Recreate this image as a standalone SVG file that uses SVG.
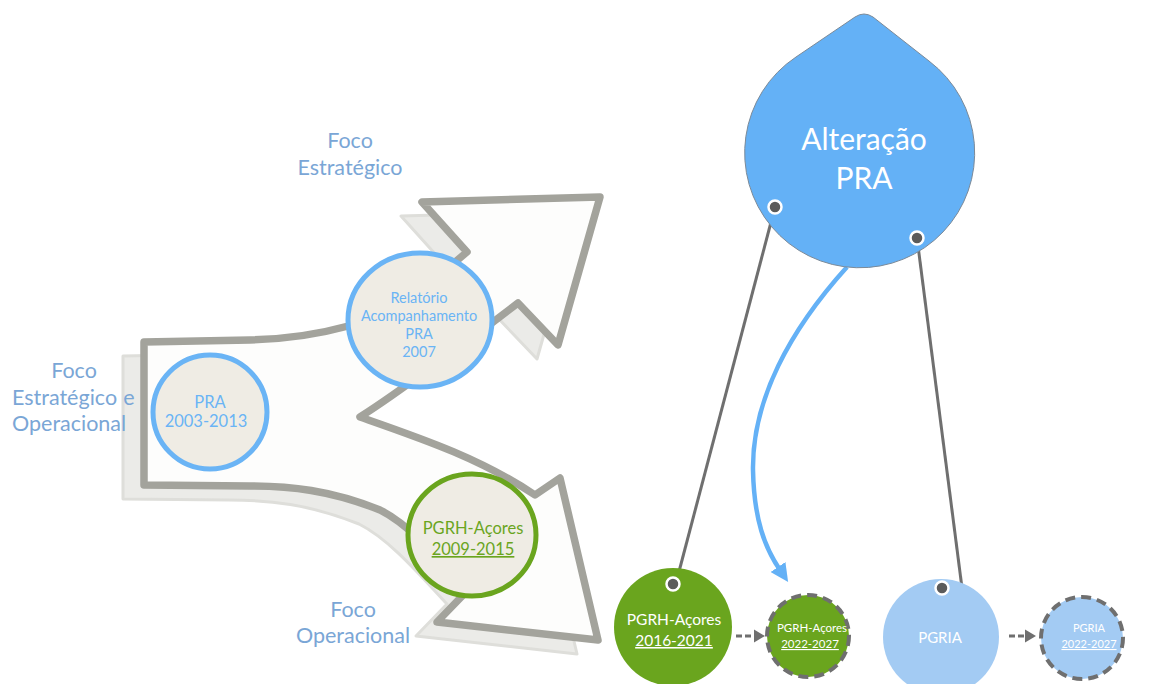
<svg xmlns="http://www.w3.org/2000/svg" width="1150" height="684" viewBox="0 0 1150 684">
<style>
text{font-family:"Lato","Noto Sans","Liberation Sans",sans-serif;text-anchor:middle}
.foco{fill:#7aa6d6;font-size:21.5px}
.bl{fill:#6ab4f5}
.gr{fill:#6aa51e}
.wt{fill:#ffffff}
.u{text-decoration:underline}
.conn{stroke:#6f6f6f;stroke-width:3;fill:none}
.dash{stroke:#6f6f6f;stroke-width:3;fill:none;stroke-dasharray:6 3}
.head{fill:#6f6f6f}
.dot{fill:#5b5b5b;stroke:#ffffff;stroke-width:2.5}
.ring-b{fill:#efece4;stroke:#6ab4f5;stroke-width:5}
.ring-g{fill:#efece4;stroke:#6aa51e;stroke-width:5}
.dashed{stroke:#6f6f6f;stroke-width:4;stroke-dasharray:10 6}
</style>
<defs>
<marker id="bh" viewBox="0 0 10 10" refX="2" refY="5" markerWidth="4" markerHeight="4" orient="auto" markerUnits="strokeWidth">
<path d="M0,0 L10,5 L0,10 Z" fill="#64b1f6"/>
</marker>
<path id="bigArrow" d="M144,342 L250,340 C320,338 380,322 420,292 L467,252 L422,202 L600,197 L558,345 L518,303 L480,332 C440,360 400,392 360,417 C420,438 480,458 535,495 L560,478 L598,640 L437,622 L468,590 C440,560 410,525 380,510 C330,490 290,486 250,486 L144,485 Z"/>
</defs>

<g id="arrow-shape">
<use href="#bigArrow" transform="translate(-21,14)" fill="#ebebe8" stroke="#dededa" stroke-width="3" stroke-linejoin="round"/>
<use href="#bigArrow" fill="#fdfdfc" stroke="#a3a39c" stroke-width="7.5" stroke-linejoin="round"/>
</g>

<g id="labels">
<text class="foco" x="350" y="148">Foco</text>
<text class="foco" x="350" y="175">Estratégico</text>
<text class="foco" x="74" y="378">Foco</text>
<text class="foco" x="12" y="405" style="text-anchor:start">Estratégico</text>
<text class="foco" x="129" y="405">e</text>
<text class="foco" x="12" y="431" style="text-anchor:start">Operacional</text>
<text class="foco" x="353" y="617">Foco</text>
<text class="foco" x="353" y="643">Operacional</text>
</g>

<g id="node-pra">
<circle class="ring-b" cx="210" cy="412" r="57"/>
<text class="bl" x="210" y="408" font-size="16.5">PRA</text>
<text class="bl" x="206" y="427" font-size="16.5">2003-2013</text>
</g>

<g id="node-relatorio">
<ellipse class="ring-b" cx="420" cy="320" rx="72" ry="67"/>
<text class="bl" x="419" y="303" font-size="14.5">Relatório</text>
<text class="bl" x="419" y="321" font-size="14.5">Acompanhamento</text>
<text class="bl" x="419" y="339" font-size="14.5">PRA</text>
<text class="bl" x="419" y="357" font-size="14.5">2007</text>
</g>

<g id="node-pgrh-2009">
<ellipse class="ring-g" cx="472" cy="535" rx="64" ry="61"/>
<text class="gr" x="473" y="534" font-size="16.5">PGRH-Açores</text>
<text class="gr u" x="473" y="555" font-size="16.5">2009-2015</text>
</g>

<g id="connectors">
<line class="conn" x1="775" y1="207" x2="676" y2="583"/>
<line class="conn" x1="917" y1="238" x2="962" y2="588"/>
<path d="M847,267 C790,330 752,400 753,470 C754,520 765,548 780,570" fill="none" stroke="#64b1f6" stroke-width="4.5" marker-end="url(#bh)"/>
<line class="dash" x1="736" y1="636" x2="756" y2="636"/>
<polygon class="head" points="754,629.5 765,636 754,642.5"/>
<line class="dash" x1="1009" y1="636" x2="1027" y2="636"/>
<polygon class="head" points="1025,629.5 1036,636 1025,642.5"/>
</g>

<g id="node-alteracao">
<path d="M796,57 L855,17 Q864,11 873,17 L929,61 A115,115 0 1 1 796,57 Z" fill="#64b1f6" stroke="#7c8a98" stroke-width="1"/>
<text class="wt" x="864" y="150" font-size="30">Alteração</text>
<text class="wt" x="864" y="189" font-size="30">PRA</text>
<circle class="dot" cx="775" cy="207" r="6.5"/>
<circle class="dot" cx="917" cy="238" r="6.5"/>
</g>

<g id="node-pgrh-2016">
<circle cx="673" cy="627" r="59" fill="#6aa51e"/>
<circle class="dot" cx="673" cy="584" r="6.5"/>
<text class="wt" x="674" y="625" font-size="15.5">PGRH-Açores</text>
<text class="wt u" x="674" y="646" font-size="15.5">2016-2021</text>
</g>

<g id="node-pgrh-2022">
<circle class="dashed" cx="808" cy="636" r="41" fill="#6aa51e"/>
<text class="wt" x="812" y="632" font-size="11.5">PGRH-Açores</text>
<text class="wt u" x="810" y="648" font-size="11.5">2022-2027</text>
</g>

<g id="node-pgria">
<circle cx="941" cy="637" r="58" fill="#a3cbf3"/>
<circle class="dot" cx="942" cy="588" r="6.5"/>
<text class="wt" x="940" y="643" font-size="15">PGRIA</text>
</g>

<g id="node-pgria-2022">
<circle class="dashed" cx="1082" cy="638" r="41" fill="#a3cbf3"/>
<text class="wt" x="1089" y="632" font-size="11">PGRIA</text>
<text class="wt u" x="1089" y="648" font-size="11">2022-2027</text>
</g>
</svg>
